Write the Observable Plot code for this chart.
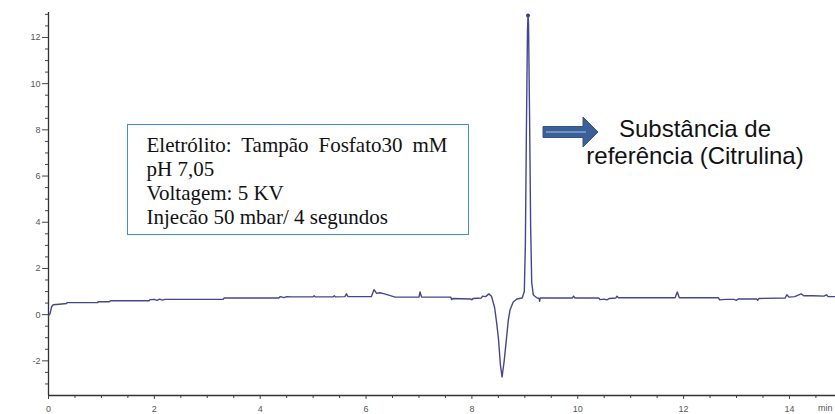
<!DOCTYPE html>
<html>
<head>
<meta charset="utf-8">
<script src="https://cdn.jsdelivr.net/npm/d3@7"></script>
<script src="https://cdn.jsdelivr.net/npm/@observablehq/plot@0.6"></script>
<style>
  html, body { margin: 0; padding: 0; background: #fff; }
  #wrap { position: relative; width: 835px; height: 414px; overflow: hidden; }
  #box { position: absolute; left: 127px; top: 124px; width: 340px; height: 109px;
         border: 1.5px solid #3f8fd2; background: #fff; }
  #boxinner { position: absolute; left: 18.5px; top: 8.4px; width: 315px;
         font-family: "Liberation Serif", "Times New Roman", serif; font-size: 21px; line-height: 24px; color: #111; }
  #boxinner div { white-space: nowrap; }
  #boxinner .j { text-align: justify; text-align-last: justify; width: 301px; }
  #lbl { position: absolute; left: 555px; top: 115px; width: 280px; text-align: center;
         font-family: "Liberation Sans", Arial, sans-serif; font-size: 24px; line-height: 27px; color: #111; }
  #unit { position: absolute; left: 818px; top: 403px; font-family: "Liberation Sans Narrow", "Liberation Sans", Arial, sans-serif;
          font-size: 9px; color: #555; }
  #arrow { position: absolute; left: 0; top: 0; }
</style>
</head>
<body>
<div id="wrap"></div>
<script>
// Electropherogram trace (time in min, signal)
const time = [
  0.00, 0.03, 0.06, 0.09, 0.20, 0.34, 0.35, 0.93, 0.94, 1.15, 1.17, 1.90, 1.92, 2.00, 2.05, 2.10, 2.15, 2.20, 2.30,
  3.30, 3.32, 4.35, 4.38, 4.45, 4.50, 4.60, 5.00, 5.02, 5.04, 5.38, 5.40, 5.42, 5.60, 5.63, 5.66, 6.10, 6.15, 6.20,
  6.26, 6.35, 6.55, 7.00, 7.02, 7.05, 7.60, 7.62, 7.64, 7.98, 8.00, 8.02, 8.18, 8.20, 8.26, 8.32, 8.37, 8.43, 8.47,
  8.50, 8.54, 8.57, 8.61, 8.65, 8.69, 8.72, 8.78, 8.85, 8.95, 8.99, 9.01, 9.03, 9.05, 9.06, 9.07, 9.09, 9.11, 9.13,
  9.16, 9.22, 9.27, 9.28, 9.29, 9.90, 9.92, 9.95, 10.40, 10.42, 10.50, 10.55, 10.60, 10.72, 10.74, 10.77, 11.84,
  11.88, 11.92, 12.66, 12.68, 12.80, 12.95, 13.00, 13.03, 13.38, 13.40, 13.42, 13.92, 13.95, 13.99, 14.10, 14.22,
  14.27, 14.45, 14.65, 14.70, 14.73, 14.87
];
const signal = [
  -0.05, 0.05, 0.35, 0.43, 0.45, 0.48, 0.52, 0.52, 0.56, 0.56, 0.60, 0.60, 0.65, 0.66, 0.62, 0.67, 0.63, 0.66, 0.66,
  0.66, 0.72, 0.72, 0.78, 0.74, 0.78, 0.77, 0.77, 0.82, 0.77, 0.77, 0.82, 0.77, 0.78, 0.90, 0.78, 0.78, 1.08, 0.92,
  0.95, 0.90, 0.76, 0.76, 0.98, 0.76, 0.76, 0.65, 0.70, 0.68, 0.64, 0.70, 0.72, 0.80, 0.78, 0.90, 0.80, 0.30, -0.40,
  -1.00, -2.20, -2.70, -2.00, -1.10, -0.20, 0.20, 0.55, 0.68, 0.72, 1.00, 3.00, 8.00, 12.30, 12.95, 12.60, 8.50, 3.80, 1.40,
  0.85, 0.74, 0.70, 0.58, 0.72, 0.72, 0.80, 0.72, 0.72, 0.65, 0.67, 0.64, 0.70, 0.72, 0.80, 0.73, 0.73,
  0.98, 0.73, 0.73, 0.64, 0.66, 0.66, 0.62, 0.68, 0.68, 0.62, 0.70, 0.72, 0.86, 0.76, 0.78, 0.90,
  0.82, 0.82, 0.80, 0.86, 0.78, 0.78
];
const apexTime = [9.06];
const apexSignal = [12.95];

const xTicks = [0, 2, 4, 6, 8, 10, 12, 14];
const xMinor = [0.5, 1, 1.5, 2.5, 3, 3.5, 4.5, 5, 5.5, 6.5, 7, 7.5, 8.5, 9, 9.5, 10.5, 11, 11.5, 12.5, 13, 13.5, 14.5];
const yTicks = [-2, 0, 2, 4, 6, 8, 10, 12];
const yMinor = [-3, -2.5, -1.5, -1, -0.5, 0.5, 1, 1.5, 2.5, 3, 3.5, 4.5, 5, 5.5, 6.5, 7, 7.5, 8.5, 9, 9.5, 10.5, 11, 11.5, 12.5, 13];

const boxLines = ["Eletrólito: Tampão Fosfato30 mM", "pH 7,05", "Voltagem: 5 KV", "Injecão 50 mbar/ 4 segundos"];
const labelLines = ["Substância de", "referência (Citrulina)"];
const xUnit = "min";

const data = time.map((t, i) => ({t, v: signal[i]}));
const apex = apexTime.map((t, i) => ({t, v: apexSignal[i]}));

const chart = Plot.plot({
  width: 835,
  height: 414,
  marginLeft: 48,
  marginRight: 0,
  marginTop: 12,
  marginBottom: 19,
  x: {domain: [0, 14.87], label: null},
  y: {domain: [-3.5, 13.08], label: null},
  style: {fontFamily: "'Liberation Sans Narrow', 'Liberation Sans', Arial, sans-serif", fontSize: "9px", color: "#555", background: "#fff"},
  marks: [
    Plot.axisX(xMinor, {tickSize: 3, tickFormat: () => "", stroke: "#444", label: null}),
    Plot.axisX(xTicks, {tickSize: 4, tickPadding: 6, stroke: "#444", label: null, tickFormat: d => `${d}`}),
    Plot.axisY(yMinor, {tickSize: 3, tickFormat: () => "", stroke: "#444", label: null}),
    Plot.axisY(yTicks, {tickSize: 6, tickPadding: 2, stroke: "#444", label: null, tickFormat: d => `${d}`}),
    Plot.ruleX([0], {stroke: "#333", strokeWidth: 1.3}),
    Plot.ruleY([-3.5], {stroke: "#333", strokeWidth: 1.3}),
    Plot.line(data, {x: "t", y: "v", stroke: "#46468c", strokeWidth: 1.4, strokeLinejoin: "round"}),
    Plot.dot(apex, {x: "t", y: "v", r: 2, fill: "#3a3a7a"})
  ]
});

const wrap = document.getElementById("wrap");
wrap.appendChild(chart);

const box = document.createElement("div");
box.id = "box";
const inner = document.createElement("div");
inner.id = "boxinner";
boxLines.forEach((s, i) => {
  const d = document.createElement("div");
  d.textContent = s;
  if (i === 0) d.className = "j";
  inner.appendChild(d);
});
box.appendChild(inner);
wrap.appendChild(box);

const lbl = document.createElement("div");
lbl.id = "lbl";
lbl.innerHTML = labelLines.map(s => `<div>${s}</div>`).join("");
wrap.appendChild(lbl);

const unit = document.createElement("div");
unit.id = "unit";
unit.textContent = xUnit;
wrap.appendChild(unit);

const ns = "http://www.w3.org/2000/svg";
const svg = document.createElementNS(ns, "svg");
svg.setAttribute("id", "arrow");
svg.setAttribute("width", 835);
svg.setAttribute("height", 414);
svg.innerHTML = `
  <polygon points="543,126.5 583,126.5 583,117 598,132 583,147 583,137.5 543,137.5" fill="#3c5f96" stroke="#34548a" stroke-width="1"/>
  <line x1="546" y1="132" x2="586" y2="132" stroke="#6b93c8" stroke-width="2"/>`;
svg.style.pointerEvents = "none";
wrap.appendChild(svg);
</script>
</body>
</html>
